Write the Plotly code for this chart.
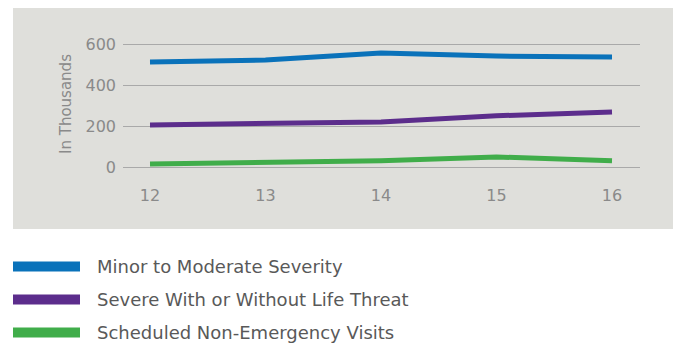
import plotly.graph_objects as go

# data (values in thousands)
years = [12, 13, 14, 15, 16]
minor_moderate = [512, 522, 556, 541, 537]
severe = [205, 210, 220, 250, 268]
scheduled = [15, 24, 30, 49, 30]

series_names = ["Minor to Moderate Severity",
                "Severe With or Without Life Threat",
                "Scheduled Non-Emergency Visits"]
series_colors = ["#0a72ba", "#5c2d8c", "#40ad4a"]

# page puts the plot 8px in from the top-left, so work in page pixels and shift
OFF = 8
W, H = 681 - OFF, 343 - OFF
L, R, T, B = 123 - OFF, 41, 24 - OFF, 343 - 184
PW = W - L - R
PH = H - T - B


def px_x(p):
    # page pixel column -> paper x
    return (p - OFF - L) / PW


def px_y(p):
    # page pixel row -> paper y
    return (H - B - (p - OFF)) / PH


fig = go.Figure()
for name, vals, col in zip(series_names, [minor_moderate, severe, scheduled], series_colors):
    fig.add_trace(go.Scatter(x=years, y=vals, mode="lines", name=name,
                             line=dict(color=col, width=5)))

# grey panel behind the chart
fig.add_shape(type="rect", xref="paper", yref="paper",
              x0=px_x(13), x1=px_x(690), y0=px_y(229), y1=px_y(7),
              fillcolor="#dfdfdb", line_width=0, layer="below")

# legend drawn by hand (wide swatches)
legend_rows = [266.5, 299.5, 332.5]
for name, col, yy in zip(series_names, series_colors, legend_rows):
    fig.add_shape(type="rect", xref="paper", yref="paper",
                  x0=px_x(13), x1=px_x(80), y0=px_y(yy + 5), y1=px_y(yy - 5),
                  fillcolor=col, line_width=0)
    fig.add_annotation(x=px_x(95), y=px_y(yy), xref="paper", yref="paper",
                       text=name, showarrow=False, xanchor="left", yanchor="middle",
                       font=dict(family="DejaVu Sans", size=18, color="#595959"))

fig.update_layout(
    width=W, height=H,
    margin=dict(l=L, r=R, t=T, b=B),
    paper_bgcolor="white",
    plot_bgcolor="rgba(0,0,0,0)",
    showlegend=False,
    font=dict(family="DejaVu Sans", color="#8a8a8a", size=15),
)
fig.update_xaxes(range=[12 - 27 / 115.5, 16 + 28 / 115.5], tickvals=years,
                 ticktext=[str(y) for y in years], showgrid=False, zeroline=False,
                 showline=False, ticks="", tickfont=dict(size=16, color="#8a8a8a"))
fig.update_yaxes(range=[(167 - 184) / 0.205, (167 - 24) / 0.205], tickvals=[0, 200, 400, 600],
                 showgrid=True, gridcolor="#a9a9a9", gridwidth=1, zeroline=False,
                 showline=False, ticks="", ticklabelstandoff=6,
                 tickfont=dict(size=16, color="#8a8a8a"),
                 title=dict(text="In Thousands", font=dict(size=15, color="#8a8a8a"), standoff=10))

fig.write_html("out.html")
